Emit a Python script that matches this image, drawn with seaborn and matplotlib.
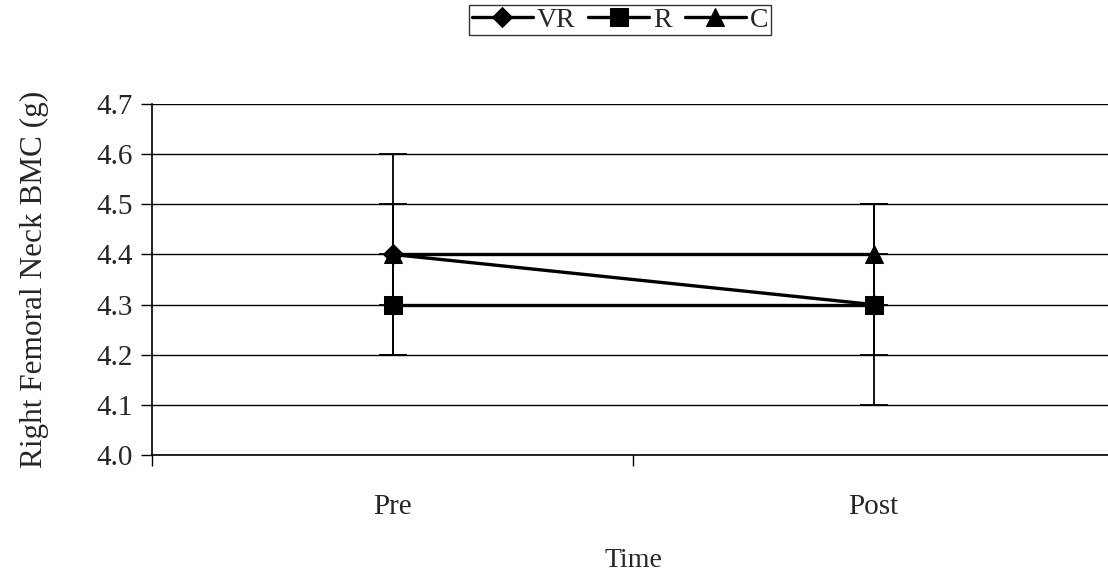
import pandas as pd
import matplotlib.pyplot as plt
import seaborn as sns

# Values
times = ['Pre', 'Post']
vr_mean = [4.4, 4.3]
r_mean = [4.3, 4.3]
c_mean = [4.4, 4.4]
vr_err = [0.2, 0.2]
r_err = [0.1, 0.1]
c_err = [0.1, 0.1]
groups = ['VR', 'R', 'C']
y_ticks = [4.0, 4.1, 4.2, 4.3, 4.4, 4.5, 4.6, 4.7]

means = {'VR': vr_mean, 'R': r_mean, 'C': c_mean}
errs = {'VR': vr_err, 'R': r_err, 'C': c_err}

data = pd.DataFrame({
    'Time': times * 3,
    'Group': [g for g in groups for _ in times],
    'BMC': vr_mean + r_mean + c_mean,
})

sns.set_style('white')
plt.rcParams['font.family'] = ['Liberation Serif', 'DejaVu Serif']

fig = plt.figure(figsize=(11.08, 5.71), dpi=100)
ax = fig.add_axes([152 / 1108, 1 - 455 / 571, 962 / 1108, 351 / 571])

# error bars first so the markers sit on top
for g in groups:
    ax.errorbar([0, 1], means[g], yerr=errs[g], fmt='none', ecolor='black',
                elinewidth=1.3, capsize=10, capthick=1.3, zorder=2)

sns.lineplot(data=data, x='Time', y='BMC', hue='Group', style='Group',
             hue_order=groups, style_order=groups,
             palette={'VR': 'black', 'R': 'black', 'C': 'black'},
             markers={'VR': 'D', 'R': 's', 'C': '^'}, dashes=False,
             linewidth=2.4, markersize=13, markeredgecolor='black',
             sort=False, ax=ax, zorder=3)

# diamond a bit smaller than the square, like the original
for ln in ax.lines:
    if ln.get_marker() == 'D':
        ln.set_markersize(10)

ax.set_xlim(-0.5, 1.5)
ax.set_ylim(4.0, 4.7)
ax.set_yticks(y_ticks)
ax.set_yticklabels([f'{v:.1f}' for v in y_ticks])
ax.set_xticks([0, 1])
ax.set_xticklabels(times)
ax.set_xticks([-0.5, 0.5, 1.5], minor=True)
ax.tick_params(axis='x', which='major', length=0, pad=28, labelsize=21)
ax.tick_params(axis='x', which='minor', length=8, width=1, direction='out',
               bottom=True, color='black')
ax.tick_params(axis='y', length=8, width=1, direction='out', left=True,
               color='black', labelsize=21, pad=6)

ax.grid(axis='y', color='black', linewidth=1)
ax.set_axisbelow(True)
for side in ['top', 'right']:
    ax.spines[side].set_visible(False)
for side in ['left', 'bottom']:
    ax.spines[side].set_color('black')
    ax.spines[side].set_linewidth(1.2)

ax.set_xlabel('Time', fontsize=20, labelpad=20)
ax.set_ylabel('Right Femoral Neck BMC (g)', fontsize=22.5, labelpad=34)

handles, labels = ax.get_legend_handles_labels()
ax.get_legend().remove()
for h in handles:
    if h.get_marker() == 'D':
        h.set_markersize(10)
leg = fig.legend(handles, labels, loc='upper center', ncol=3,
                 bbox_to_anchor=(620 / 1108, 1 - 5 / 571), frameon=True,
                 fancybox=False, edgecolor='black', fontsize=20,
                 handlelength=2.2, handletextpad=0.15, columnspacing=0.45,
                 borderpad=0.08, borderaxespad=0)
leg.get_frame().set_linewidth(1)

plt.savefig('out.png', dpi=100)
